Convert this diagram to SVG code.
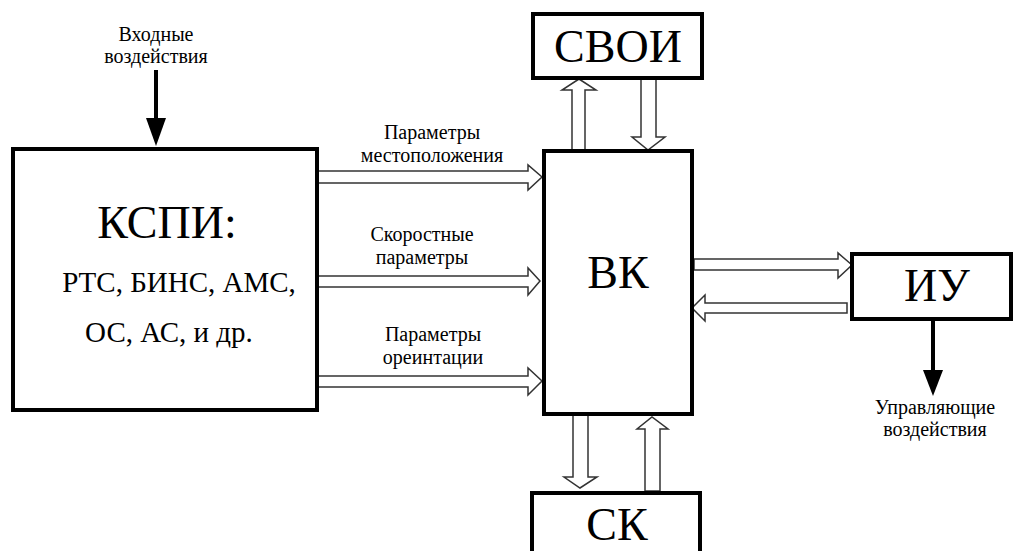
<svg xmlns="http://www.w3.org/2000/svg" width="1015" height="551" viewBox="0 0 1015 551" font-family="'Liberation Serif', 'DejaVu Serif', serif">
<style>
.box{fill:#fff;stroke:#000;stroke-width:4}
.ha{fill:#fff;stroke:#333;stroke-width:1.5;stroke-linejoin:miter}
text{fill:#000;text-anchor:middle}
.big{font-size:46px}
.mid{font-size:29px}
.lbl{font-size:20px}
</style>
<rect width="1015" height="551" fill="#fff"/>

<g id="connectors">
<line x1="156" y1="70" x2="156" y2="120" stroke="#000" stroke-width="4"/>
<polygon points="146,118 166,118 156,146" fill="#000"/>
<line x1="933" y1="319" x2="933" y2="372" stroke="#000" stroke-width="4"/>
<polygon points="923,370 943,370 933,396" fill="#000"/>
<polygon class="ha" points="317,171 528,171 528,165 542,177 528,190 528,183 317,183"/>
<polygon class="ha" points="315,276 528,276 528,268 540,281 528,295 528,287 315,287"/>
<polygon class="ha" points="317,376 528,376 528,368 542,381 528,395 528,387 317,387"/>
<polygon class="ha" points="572,150 572,90 562,90 579,79 596,90 585,90 585,150"/>
<polygon class="ha" points="641,79 641,137 632,137 648,150 665,137 656,137 656,79"/>
<polygon class="ha" points="694,259 838,259 838,253 852,265 838,278 838,270 694,270"/>
<polygon class="ha" points="847,303 705,303 705,295 692,308 705,321 705,313 847,313"/>
<polygon class="ha" points="573,415 573,477 564,477 580,488 597,477 588,477 588,415"/>
<polygon class="ha" points="645,491 645,429 637,429 652,417 668,429 660,429 660,491"/>
</g>

<g id="labels">
<text class="lbl" x="156" y="41">Входные</text>
<text class="lbl" x="156" y="63">воздействия</text>
<text class="lbl" x="432" y="139">Параметры</text>
<text class="lbl" x="432" y="162">местоположения</text>
<text class="lbl" x="422" y="241">Скоростные</text>
<text class="lbl" x="422" y="264">параметры</text>
<text class="lbl" x="433" y="341">Параметры</text>
<text class="lbl" x="433" y="364">ореинтации</text>
<text class="lbl" x="935" y="414">Управляющие</text>
<text class="lbl" x="935" y="436">воздействия</text>
</g>

<g id="kspi">
<rect class="box" x="13" y="149" width="304" height="261"/>
<text class="big" x="167" y="238">КСПИ:</text>
<text class="mid" x="179" y="292">РТС, БИНС, АМС,</text>
<text class="mid" x="169" y="342">ОС, АС, и др.</text>
</g>

<g id="vk">
<rect class="box" x="544" y="151" width="148" height="263"/>
<text class="big" x="618" y="288">ВК</text>
</g>

<g id="svoi">
<rect class="box" x="533" y="14" width="169" height="64"/>
<text class="big" x="618" y="62">СВОИ</text>
</g>

<g id="iu">
<rect class="box" x="852" y="254" width="159" height="65"/>
<text class="big" x="937" y="301">ИУ</text>
</g>

<g id="sk">
<rect class="box" x="532" y="493" width="168" height="70"/>
<text class="big" x="617" y="540">СК</text>
</g>
</svg>
